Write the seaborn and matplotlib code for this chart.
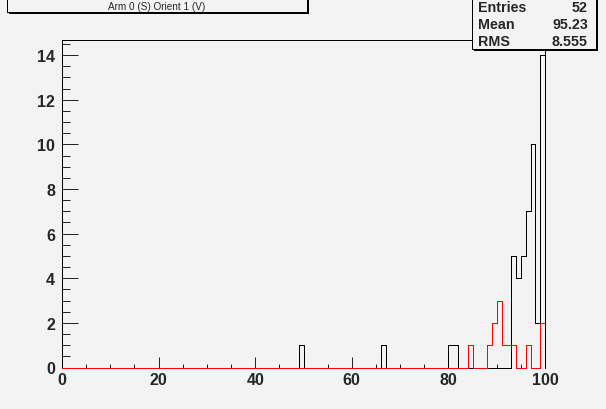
import numpy as np
import pandas as pd
import matplotlib
matplotlib.use("Agg")
import matplotlib.pyplot as plt
import matplotlib.patches as mpatches
from matplotlib.ticker import MultipleLocator
import seaborn as sns

# bin low edges (1 unit bins from 0 to 100) and counts
black_bins = [49, 66, 80, 81, 93, 94, 95, 96, 97, 98, 99]
black_counts = [1, 1, 1, 1, 5, 4, 5, 7, 10, 2, 14]
red_bins = [84, 88, 89, 90, 91, 92, 93, 96, 99]
red_counts = [1, 1, 2, 3, 1, 1, 1, 1, 2]

title = "Arm 0 (S) Orient 1 (V)"
stats_names = ["Entries", "Mean", "RMS"]
stats_vals = ["52", "95.23", "8.555"]

bg = "#f3f3f3"
W, H = 606, 410
lw = 0.72  # one pixel at 100 dpi

sns.set_style("ticks")
plt.rcParams['font.family'] = ['Liberation Sans', 'DejaVu Sans']
plt.rcParams['lines.antialiased'] = False
plt.rcParams['patch.antialiased'] = False

fig = plt.figure(figsize=(W / 100, H / 100), dpi=100, facecolor=bg)
ax = fig.add_axes([62 / W, 1 - 368.5 / H, 483 / W, 328 / H], facecolor=bg)

# full 0..100 range so zero bins get drawn along the baseline (like ROOT)
def full(bins, counts):
    c = np.zeros(100)
    for b, n in zip(bins, counts):
        c[b] = n
    return pd.DataFrame({"x": np.arange(100) + 0.5, "w": c})

blk = full(black_bins, black_counts)
red = full(red_bins, red_counts)

sns.histplot(data=blk, x="x", weights="w", bins=100, binrange=(0, 100),
             element="step", fill=False, color="black", linewidth=lw, ax=ax)
sns.histplot(data=red, x="x", weights="w", bins=100, binrange=(0, 100),
             element="step", fill=False, color="red", linewidth=lw, ax=ax)
for i, ln in enumerate(ax.lines + ax.patches + list(ax.collections)):
    ln.set_clip_on(False)
    ln.set_zorder(10 + i)
    ln.set_antialiased(False)

ax.set_xlim(0, 100)
ax.set_ylim(0, 14.7)
ax.set_xlabel("")
ax.set_ylabel("")
for s in ax.spines.values():
    s.set_linewidth(lw)
    s.set_color("black")
    s.set_zorder(1)
    s.set_antialiased(False)
ax.spines["bottom"].set_visible(False)

ax.xaxis.set_major_locator(MultipleLocator(20))
ax.xaxis.set_minor_locator(MultipleLocator(5))
ax.yaxis.set_major_locator(MultipleLocator(2))
ax.yaxis.set_minor_locator(MultipleLocator(0.5))
ax.tick_params(axis="x", which="major", direction="in", length=11 * 0.72, width=lw, pad=3)
ax.tick_params(axis="x", which="minor", direction="in", length=4 * 0.72, width=lw)
ax.tick_params(axis="y", which="major", direction="in", length=16 * 0.72, width=lw, pad=5)
ax.tick_params(axis="y", which="minor", direction="in", length=8 * 0.72, width=lw)
for lab in ax.get_xticklabels() + ax.get_yticklabels():
    lab.set_fontsize(11.5)
    lab.set_fontweight("bold")

# title box with shadow
fig.patches.append(mpatches.Rectangle((9 / W, 1 - 15 / H), 300 / W, 14 / H,
                   transform=fig.transFigure, facecolor="black", edgecolor="none"))
fig.patches.append(mpatches.Rectangle((7 / W, 1 - 13 / H), 300 / W, 13 / H,
                   transform=fig.transFigure, facecolor=bg, edgecolor="black", linewidth=lw))
fig.text(157 / W, 1 - 6.5 / H, title, ha="center", va="center", fontsize=7.2)

# stats box with shadow
fig.patches.append(mpatches.Rectangle((474 / W, 1 - 52 / H), 124 / W, 52 / H,
                   transform=fig.transFigure, facecolor="black", edgecolor="none",
                   zorder=5))
fig.patches.append(mpatches.Rectangle((472 / W, 1 - 50 / H), 124 / W, 50 / H,
                   transform=fig.transFigure, facecolor=bg, edgecolor="black",
                   linewidth=lw, zorder=6))
for i, (n, v) in enumerate(zip(stats_names, stats_vals)):
    y = 1 - (8.5 + i * 16.5) / H
    fig.text(478 / W, y, n, ha="left", va="center", fontsize=10.3,
             fontweight="bold", zorder=7)
    fig.text(588 / W, y, v, ha="right", va="center", fontsize=10.3,
             fontweight="bold", zorder=7)

fig.savefig("out.png", dpi=100, facecolor=bg)
